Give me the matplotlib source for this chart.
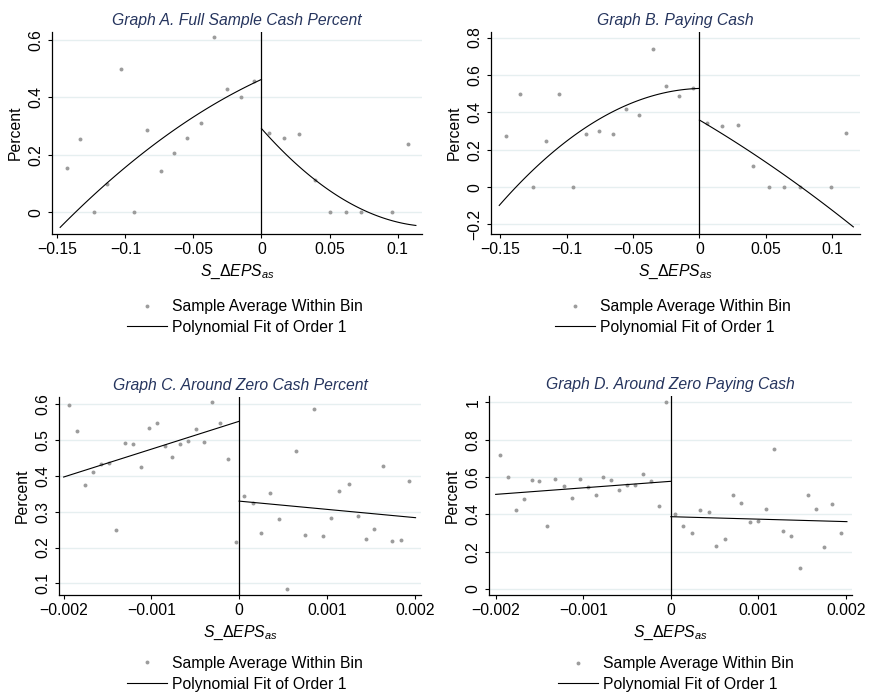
import numpy as np
import matplotlib
matplotlib.use("Agg")
import matplotlib.pyplot as plt
from matplotlib.lines import Line2D

plt.rcParams['font.family'] = ['Liberation Sans', 'DejaVu Sans']
plt.rcParams['mathtext.fontset'] = 'custom'
plt.rcParams['mathtext.rm'] = 'Liberation Sans'
plt.rcParams['mathtext.it'] = 'Liberation Sans:italic'
plt.rcParams['axes.unicode_minus'] = True

# ---- Graph A: full sample, cash percent ----
a_left_x = [-0.1431, -0.1331, -0.1233, -0.1135, -0.1034, -0.0939, -0.0838, -0.0740,
            -0.0645, -0.0547, -0.0446, -0.0350, -0.0250, -0.0152, -0.0054]
a_left_y = [0.155, 0.253, 0.0, 0.098, 0.499, 0.0, 0.286, 0.142,
            0.205, 0.259, 0.311, 0.608, 0.430, 0.402, 0.457]
a_right_x = [0.0054, 0.0167, 0.0279, 0.0395, 0.0507, 0.0620, 0.0735, 0.0963, 0.1076]
a_right_y = [0.277, 0.259, 0.272, 0.111, 0.0, 0.0, 0.0, 0.0, 0.236]
# fitted polynomial coefficients (constant, linear, quadratic) and x span
a_fit_left = [0.462, 2.174, -8.82]
a_fit_left_span = [-0.148, 0.0]
a_fit_right = [0.291, -5.366, 21.1]
a_fit_right_span = [0.0, 0.1135]

# ---- Graph B: paying cash ----
b_left_x = [-0.1460, -0.1354, -0.1256, -0.1156, -0.1055, -0.0955, -0.0854, -0.0754,
            -0.0653, -0.0553, -0.0452, -0.0352, -0.0251, -0.0151, -0.0050]
b_left_y = [0.274, 0.500, 0.0, 0.249, 0.500, 0.0, 0.284, 0.300,
            0.284, 0.418, 0.384, 0.740, 0.542, 0.489, 0.532]
b_right_x = [0.0058, 0.0173, 0.0289, 0.0407, 0.0523, 0.0638, 0.0756, 0.0990, 0.1106]
b_right_y = [0.345, 0.327, 0.334, 0.112, 0.0, 0.0, 0.0, 0.0, 0.292]
b_fit_left = [0.528, 0.195, -26.24]
b_fit_left_span = [-0.1508, 0.0]
b_fit_right = [0.359, -4.186, -6.42]
b_fit_right_span = [0.0, 0.116]

# ---- Graph C: around zero, cash percent ----
c_left_x = [-0.00194, -0.00185, -0.00176, -0.00167, -0.00157, -0.00148, -0.00140,
            -0.00130, -0.00121, -0.00112, -0.00103, -0.00094, -0.00085, -0.00076,
            -0.00067, -0.00058, -0.00049, -0.00040, -0.00031, -0.00022, -0.00013,
            -0.00004]
c_left_y = [0.595, 0.525, 0.374, 0.411, 0.432, 0.435, 0.248, 0.490, 0.487, 0.423,
            0.532, 0.547, 0.483, 0.453, 0.488, 0.497, 0.530, 0.493, 0.604, 0.547,
            0.445, 0.214]
c_right_x = [0.00006, 0.00016, 0.00025, 0.00035, 0.00045, 0.00055, 0.00065, 0.00075,
             0.00085, 0.00095, 0.00105, 0.00114, 0.00125, 0.00135, 0.00144, 0.00154,
             0.00164, 0.00174, 0.00184, 0.00194]
c_right_y = [0.344, 0.325, 0.240, 0.352, 0.280, 0.085, 0.467, 0.236, 0.584, 0.231,
             0.281, 0.358, 0.378, 0.288, 0.223, 0.251, 0.428, 0.218, 0.220, 0.385]
c_fit_left = [0.551, 77.5]
c_fit_left_span = [-0.002, 0.0]
c_fit_right = [0.329, -22.9]
c_fit_right_span = [0.0, 0.00201]

# ---- Graph D: around zero, paying cash ----
d_left_x = [-0.00195, -0.00186, -0.00177, -0.00168, -0.00159, -0.00150, -0.00141,
            -0.00132, -0.00122, -0.00113, -0.00104, -0.00095, -0.00086, -0.00077,
            -0.00068, -0.00059, -0.00050, -0.00041, -0.00032, -0.00023, -0.00014,
            -0.00005]
d_left_y = [0.716, 0.600, 0.423, 0.484, 0.584, 0.580, 0.336, 0.589, 0.554, 0.488,
            0.589, 0.548, 0.502, 0.600, 0.582, 0.529, 0.559, 0.559, 0.618, 0.577,
            0.446, 1.000]
d_right_x = [0.00005, 0.00014, 0.00024, 0.00033, 0.00043, 0.00052, 0.00062, 0.00071,
             0.00080, 0.00090, 0.00100, 0.00109, 0.00118, 0.00128, 0.00137, 0.00147,
             0.00156, 0.00166, 0.00175, 0.00184, 0.00194]
d_right_y = [0.404, 0.336, 0.302, 0.425, 0.413, 0.232, 0.268, 0.502, 0.463, 0.359,
             0.364, 0.430, 0.752, 0.309, 0.286, 0.113, 0.502, 0.430, 0.225, 0.457, 0.302]
d_fit_left = [0.577, 35.0]
d_fit_left_span = [-0.002, 0.0]
d_fit_right = [0.3875, -13.2]
d_fit_right_span = [0.0, 0.00201]

titles = ["Graph A. Full Sample Cash Percent", "Graph B. Paying Cash",
          "Graph C. Around Zero Cash Percent", "Graph D. Around Zero Paying Cash"]

x_ticks_wide = [-0.15, -0.1, -0.05, 0, 0.05, 0.1]
x_labels_wide = ["\u22120.15", "\u22120.1", "\u22120.05", "0", "0.05", "0.1"]
x_ticks_narrow = [-0.002, -0.001, 0, 0.001, 0.002]
x_labels_narrow = ["\u22120.002", "\u22120.001", "0", "0.001", "0.002"]

a_yticks = [0, 0.2, 0.4, 0.6]
a_ylabels = ["0", "0.2", "0.4", "0.6"]
b_yticks = [-0.2, 0, 0.2, 0.4, 0.6, 0.8]
b_ylabels = ["\u22120.2", "0", "0.2", "0.4", "0.6", "0.8"]
c_yticks = [0.1, 0.2, 0.3, 0.4, 0.5, 0.6]
c_ylabels = ["0.1", "0.2", "0.3", "0.4", "0.5", "0.6"]
d_yticks = [0, 0.2, 0.4, 0.6, 0.8, 1]
d_ylabels = ["0", "0.2", "0.4", "0.6", "0.8", "1"]

W, H = 869, 692
fig = plt.figure(figsize=(W / 100, H / 100), dpi=100)

TITLE_COLOR = "#26355e"
DOT_COLOR = "#9c9c9c"
GRID_COLOR = "#e6eff0"
FS = 11.3


def make_axes(left, top, right, bottom):
    return fig.add_axes([left / W, 1 - bottom / H, (right - left) / W, (bottom - top) / H])


panels = [
    dict(box=(52, 32, 422, 234), lx=a_left_x, ly=a_left_y, rx=a_right_x, ry=a_right_y,
         fl=a_fit_left, fls=a_fit_left_span, fr=a_fit_right, frs=a_fit_right_span,
         xlim=(-0.154, 0.118), ylim=(-0.076, 0.627), xt=x_ticks_wide, xl=x_labels_wide,
         yt=a_yticks, yl=a_ylabels, leg=(0.203, -0.322)),
    dict(box=(491, 32, 860, 234), lx=b_left_x, ly=b_left_y, rx=b_right_x, ry=b_right_y,
         fl=b_fit_left, fls=b_fit_left_span, fr=b_fit_right, frs=b_fit_right_span,
         xlim=(-0.157, 0.121), ylim=(-0.251, 0.830), xt=x_ticks_wide, xl=x_labels_wide,
         yt=b_yticks, yl=b_ylabels, leg=(0.173, -0.322)),
    dict(box=(59, 397, 421, 595), lx=c_left_x, ly=c_left_y, rx=c_right_x, ry=c_right_y,
         fl=c_fit_left, fls=c_fit_left_span, fr=c_fit_right, frs=c_fit_right_span,
         xlim=(-0.002053, 0.002072), ylim=(0.068, 0.6185), xt=x_ticks_narrow,
         xl=x_labels_narrow, yt=c_yticks, yl=c_ylabels, leg=(0.188, -0.308)),
    dict(box=(489, 396, 852, 595), lx=d_left_x, ly=d_left_y, rx=d_right_x, ry=d_right_y,
         fl=d_fit_left, fls=d_fit_left_span, fr=d_fit_right, frs=d_fit_right_span,
         xlim=(-0.002076, 0.002068), ylim=(-0.032, 1.034), xt=x_ticks_narrow,
         xl=x_labels_narrow, yt=d_yticks, yl=d_ylabels, leg=(0.19, -0.308)),
]

for p, title in zip(panels, titles):
    ax = make_axes(*p["box"])
    ax.set_xlim(*p["xlim"])
    ax.set_ylim(*p["ylim"])
    for yv in p["yt"]:
        ax.axhline(yv, color=GRID_COLOR, lw=1.0, zorder=0)
    ax.axvline(0, color="black", lw=0.9, zorder=2)

    ax.scatter(p["lx"], p["ly"], s=8, color=DOT_COLOR, linewidths=0, zorder=3)
    ax.scatter(p["rx"], p["ry"], s=8, color=DOT_COLOR, linewidths=0, zorder=3)

    for coef, span in ((p["fl"], p["fls"]), (p["fr"], p["frs"])):
        xs = np.linspace(span[0], span[1], 120)
        ys = np.polynomial.polynomial.polyval(xs, coef)
        ax.plot(xs, ys, color="black", lw=0.8, zorder=4)

    ax.set_xticks(p["xt"])
    ax.set_xticklabels(p["xl"], fontsize=FS)
    ax.set_yticks(p["yt"])
    ax.set_yticklabels(p["yl"], fontsize=FS, rotation=90, va="center")
    ax.tick_params(axis="both", direction="out", length=3, width=0.8, pad=3, color="black")
    for side in ("top", "right"):
        ax.spines[side].set_visible(False)
    for side in ("left", "bottom"):
        ax.spines[side].set_linewidth(0.9)

    ax.set_title(title, fontsize=FS, style="italic", color=TITLE_COLOR, pad=5)
    ax.set_ylabel("Percent", fontsize=FS, labelpad=4)
    ax.set_xlabel(r"$\mathit{S\_\Delta EPS_{as}}$", fontsize=FS, labelpad=4)

    handles = [
        Line2D([], [], ls="none", marker="o", ms=2.8, color=DOT_COLOR, mec="none"),
        Line2D([], [], color="black", lw=0.8),
    ]
    ax.legend(handles, ["Sample Average Within Bin", "Polynomial Fit of Order 1"],
              loc="upper left", bbox_to_anchor=p["leg"], frameon=False,
              fontsize=FS, handlelength=2.55, handletextpad=0.3, labelspacing=0.36,
              borderpad=0, borderaxespad=0)

fig.savefig("out.png", dpi=100, facecolor="white")
